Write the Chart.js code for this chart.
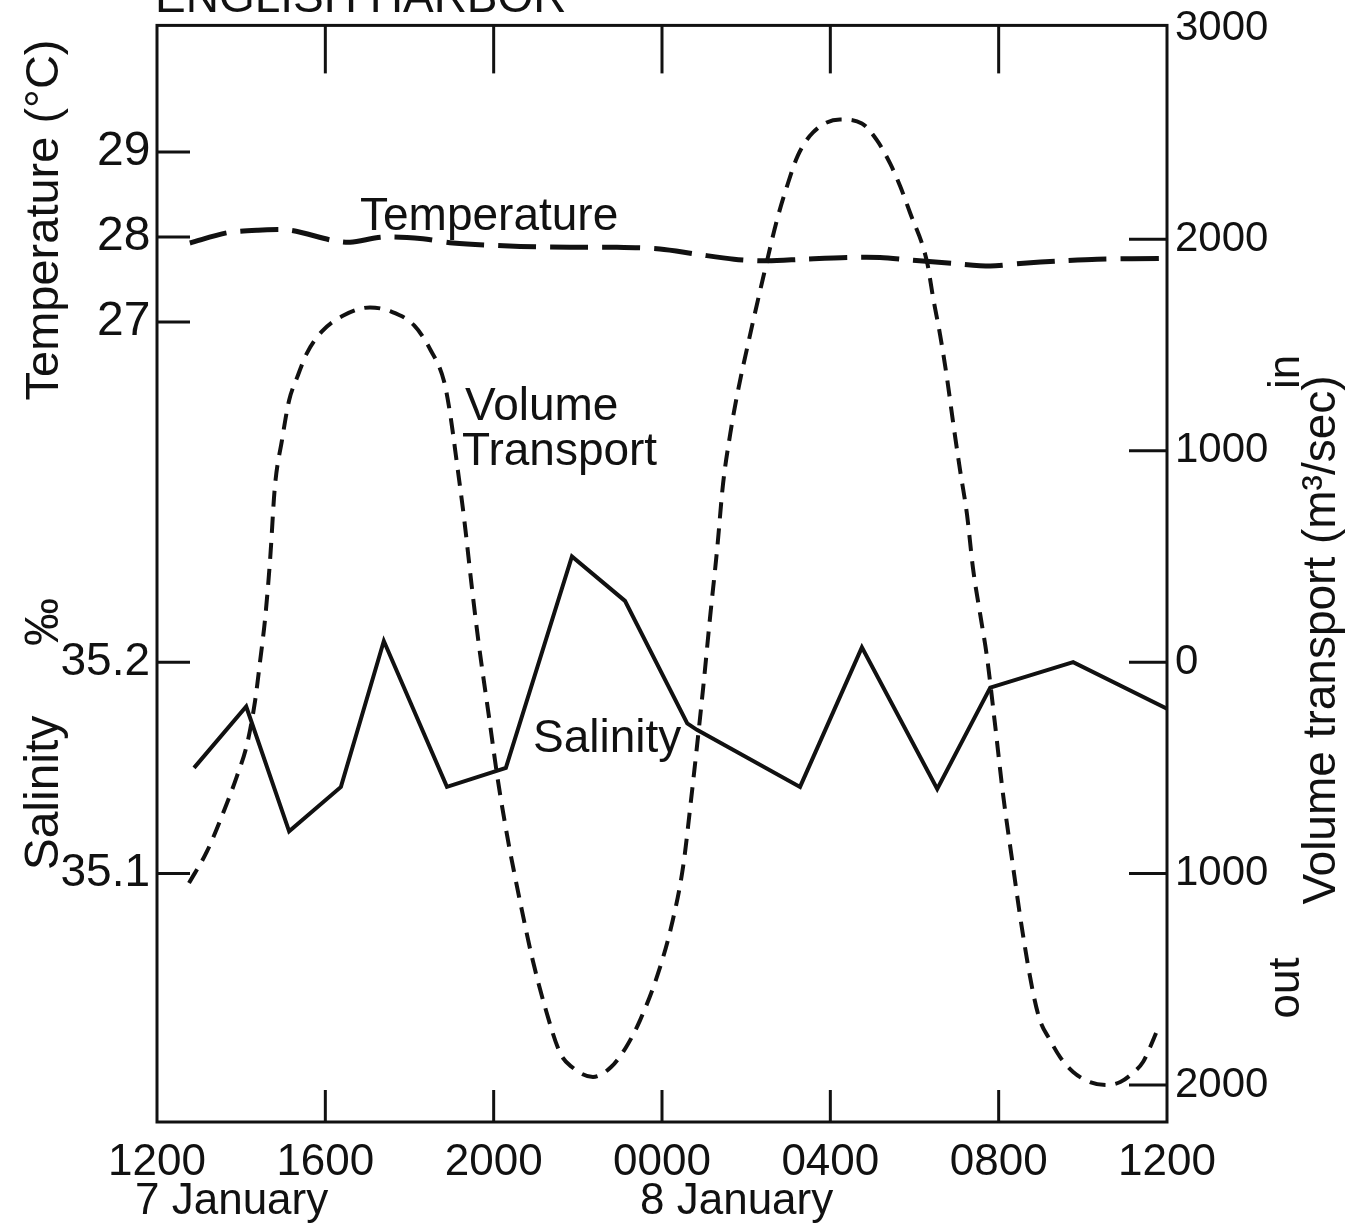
<!DOCTYPE html>
<html>
<head>
<meta charset="utf-8">
<title>English Harbor</title>
<script src="https://cdn.jsdelivr.net/npm/chart.js@4.4.0/dist/chart.umd.min.js"></script>
<style>
  html, body { margin: 0; padding: 0; background: #ffffff; }
  #chart { display: block; }
</style>
</head>
<body>
<canvas id="chart" width="1347" height="1224"></canvas>
<script>
// hours after 1200 on 7 January
const hourTicks = [0, 4, 8, 12, 16, 20, 24];
const timeLabels = ['1200', '1600', '2000', '0000', '0400', '0800', '1200'];
const tempTicks = [27, 28, 29];
const salTicks = [35.1, 35.2];
const volTicks = [-2000, -1000, 0, 1000, 2000, 3000];

// salinity (per mille), solid line
const salHours = [0.88, 2.12, 3.14, 4.37, 5.39, 6.89, 8.29, 9.86, 11.12, 12.6, 12.83, 15.28, 16.75, 18.54, 19.8, 21.77, 24.0];
const salValues = [35.150, 35.179, 35.120, 35.141, 35.210, 35.141, 35.150, 35.250, 35.229, 35.171, 35.168, 35.141, 35.207, 35.140, 35.188, 35.200, 35.178];

// temperature (deg C), long dashes
const tempHours = [0.78, 1.66, 2.4, 3.16, 4.18, 4.59, 5.37, 6.32, 7.03, 8.63, 9.81, 10.93, 11.95, 12.81, 13.71, 14.5, 15.38, 16.42, 17.18, 17.92, 18.92, 19.8, 20.51, 21.48, 22.34, 23.98];
const tempValues = [27.93, 28.05, 28.08, 28.08, 27.96, 27.94, 28.0, 27.98, 27.93, 27.89, 27.88, 27.88, 27.86, 27.8, 27.74, 27.72, 27.74, 27.76, 27.76, 27.73, 27.69, 27.66, 27.69, 27.72, 27.74, 27.75];

// volume transport (m3/sec), in = positive, out = negative
const volHours = [0.76, 1.19, 1.59, 1.9, 2.14, 2.33, 2.45, 2.57, 2.69, 2.8, 2.97, 3.14, 3.33, 3.56, 3.92, 4.44, 5.06, 5.54, 6.11, 6.49, 6.82, 6.96, 7.13, 7.3, 7.49, 7.65, 7.89, 8.1, 8.34, 8.51, 8.67, 8.91, 9.22, 9.58, 9.86, 10.36, 10.79, 11.15, 11.48, 11.91, 12.24, 12.5, 12.69, 12.98, 13.14, 13.31, 13.45, 13.62, 13.78, 14.09, 14.4, 14.73, 14.97, 15.23, 15.59, 16.23, 16.75, 17.11, 17.42, 17.66, 17.89, 18.3, 18.44, 18.61, 18.77, 18.92, 19.08, 19.25, 19.39, 19.56, 19.72, 19.91, 20.1, 20.32, 20.56, 20.82, 20.98, 21.22, 21.46, 21.77, 22.17, 22.58, 22.89, 23.19, 23.43, 23.6, 23.74];
const volValues = [-1045, -894, -704, -539, -388, -184, 5, 208, 492, 827, 1050, 1239, 1347, 1461, 1565, 1641, 1678, 1660, 1593, 1480, 1329, 1182, 936, 676, 340, 80, -260, -558, -842, -1017, -1173, -1395, -1631, -1849, -1915, -1962, -1915, -1820, -1693, -1470, -1234, -969, -652, -118, 208, 534, 842, 1078, 1258, 1546, 1816, 2090, 2251, 2397, 2506, 2567, 2548, 2468, 2359, 2251, 2128, 1891, 1726, 1546, 1347, 1130, 912, 695, 444, 227, 28, -288, -619, -936, -1267, -1565, -1693, -1787, -1868, -1938, -1986, -2000, -1986, -1943, -1891, -1820, -1754];

const ink = '#111111';
const face = 'Liberation Sans, Arial, sans-serif';

const pts = (xs, ys) => xs.map((x, i) => ({ x: x, y: ys[i] }));

const decor = {
  id: 'decor',
  afterDraw(chart) {
    const { ctx, chartArea: a, scales } = chart;
    const line = (x1, y1, x2, y2) => {
      ctx.beginPath();
      ctx.moveTo(x1, y1);
      ctx.lineTo(x2, y2);
      ctx.stroke();
    };
    ctx.save();
    ctx.strokeStyle = ink;
    ctx.fillStyle = ink;
    ctx.lineWidth = 3;
    ctx.strokeRect(a.left, a.top, a.right - a.left, a.bottom - a.top);

    // inward tick marks
    hourTicks.slice(1, -1).forEach(h => {
      const x = scales.x.getPixelForValue(h);
      line(x, a.top, x, a.top + 48);
      line(x, a.bottom, x, a.bottom - 32);
    });
    tempTicks.forEach(t => {
      const y = scales.yTemp.getPixelForValue(t);
      line(a.left, y, a.left + 33, y);
    });
    salTicks.forEach(s => {
      const y = scales.ySal.getPixelForValue(s);
      line(a.left, y, a.left + 33, y);
    });
    volTicks.slice(0, -1).forEach(v => {
      const y = scales.yVol.getPixelForValue(v);
      line(a.right - 38, y, a.right, y);
    });

    // title, cut off at the top like the scan
    ctx.font = '46px ' + face;
    ctx.textAlign = 'left';
    ctx.textBaseline = 'alphabetic';
    ctx.fillText('ENGLISH HARBOR', 155, 12);

    // labels inside the plot
    ctx.fillText('Temperature', 360, 230);
    ctx.fillText('Volume', 465, 420);
    ctx.fillText('Transport', 462, 465);
    ctx.fillText('Salinity', 533, 752);

    // date labels under the time axis
    ctx.font = '44px ' + face;
    ctx.fillText('7 January', 135, 1214);
    ctx.fillText('8 January', 640, 1214);

    // rotated axis titles
    const vert = (text, x, y, size) => {
      ctx.save();
      ctx.translate(x, y);
      ctx.rotate(-Math.PI / 2);
      ctx.font = size + 'px ' + face;
      ctx.textAlign = 'center';
      ctx.textBaseline = 'middle';
      ctx.fillText(text, 0, 0);
      ctx.restore();
    };
    vert('Temperature (°C)', 45, 220, 47);
    vert('Salinity', 45, 793, 48);
    vert('‰', 45, 622, 48);
    vert('Volume transport (m³/sec)', 1322, 640, 46);
    vert('in', 1287, 372, 44);
    vert('out', 1287, 988, 44);
    ctx.restore();
  }
};

new Chart(document.getElementById('chart'), {
  type: 'line',
  data: {
    datasets: [
      {
        label: 'Volume Transport',
        data: pts(volHours, volValues),
        yAxisID: 'yVol',
        borderColor: ink,
        borderWidth: 4,
        borderDash: [16, 10],
        cubicInterpolationMode: 'monotone',
        pointRadius: 0,
        fill: false
      },
      {
        label: 'Temperature',
        data: pts(tempHours, tempValues),
        yAxisID: 'yTemp',
        borderColor: ink,
        borderWidth: 5,
        borderDash: [38, 14],
        tension: 0.3,
        pointRadius: 0,
        fill: false
      },
      {
        label: 'Salinity',
        data: pts(salHours, salValues),
        yAxisID: 'ySal',
        borderColor: ink,
        borderWidth: 4,
        tension: 0,
        pointRadius: 0,
        fill: false
      }
    ]
  },
  options: {
    responsive: false,
    animation: false,
    layout: { padding: { top: 25, left: 0, right: 0, bottom: 0 } },
    plugins: {
      legend: { display: false },
      title: { display: false },
      tooltip: { enabled: false }
    },
    scales: {
      x: {
        type: 'linear',
        position: 'bottom',
        min: 0,
        max: 24,
        afterBuildTicks: s => { s.ticks = hourTicks.map(v => ({ value: v })); },
        afterFit: s => { s.height = 102; },
        ticks: {
          autoSkip: false,
          maxRotation: 0,
          padding: 14,
          color: ink,
          font: { family: face, size: 44 },
          callback: (v, i) => timeLabels[i]
        },
        grid: { display: false, drawTicks: false },
        border: { display: false }
      },
      ySal: {
        type: 'linear',
        position: 'left',
        min: 34.9825,
        max: 35.5012,
        afterBuildTicks: s => { s.ticks = salTicks.map(v => ({ value: v })); },
        afterFit: s => { s.width = 157; },
        ticks: {
          padding: 7,
          color: ink,
          font: { family: face, size: 46, lineHeight: 0.8 },
          callback: v => v.toFixed(1)
        },
        grid: { display: false, drawTicks: false },
        border: { display: false }
      },
      // zero-width axis at the far left; mirrored labels are not clipped to it
      yTemp: {
        type: 'linear',
        position: 'left',
        min: 17.59,
        max: 30.49,
        afterBuildTicks: s => { s.ticks = tempTicks.map(v => ({ value: v })); },
        afterFit: s => {
          s.width = 0;
          s.paddingTop = 0;
          s.paddingBottom = 0;
        },
        ticks: {
          mirror: true,
          padding: 97,
          color: ink,
          font: { family: face, size: 48, lineHeight: 0.8 },
          callback: v => String(v)
        },
        grid: { display: false, drawTicks: false },
        border: { display: false }
      },
      yVol: {
        type: 'linear',
        position: 'right',
        min: -2175,
        max: 3012,
        afterBuildTicks: s => { s.ticks = volTicks.map(v => ({ value: v })); },
        afterFit: s => { s.width = 180; },
        ticks: {
          padding: 8,
          color: ink,
          font: { family: face, size: 42, lineHeight: 0.8 },
          callback: v => String(Math.abs(v))
        },
        grid: { display: false, drawTicks: false },
        border: { display: false }
      }
    }
  },
  plugins: [decor]
});
</script>
</body>
</html>
